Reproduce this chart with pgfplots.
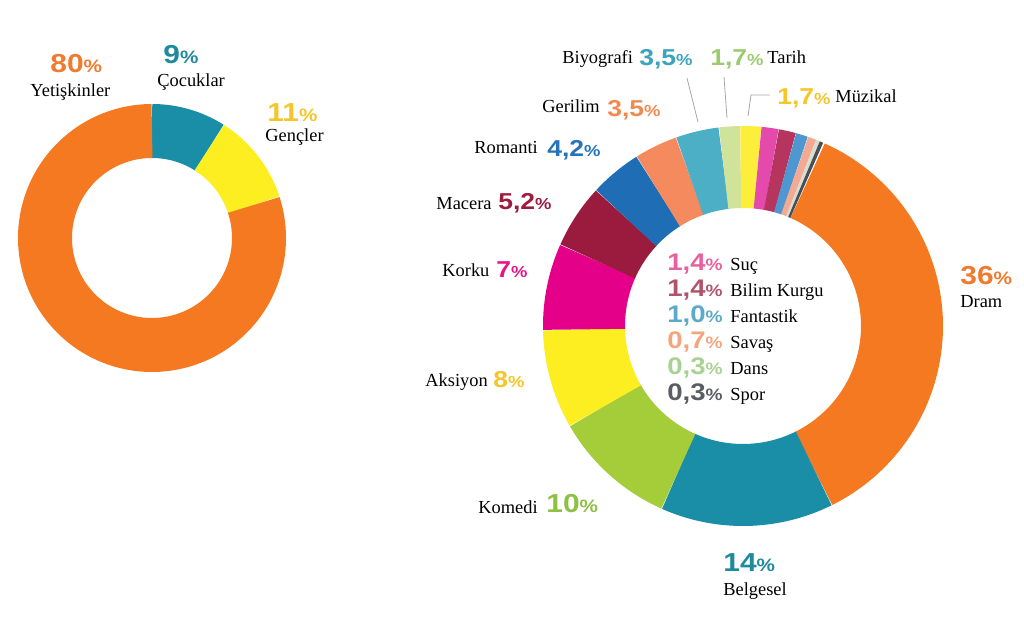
\documentclass[border=0pt]{standalone}
\usepackage{pgfplots}
\pgfplotsset{compat=1.18}
\usepgfplotslibrary{polar}
\usepackage{fontspec}
\setmainfont{Liberation Serif}
\newfontfamily\pctfont{Liberation Sans}
% slice colours
\definecolor{cOrange}{HTML}{F47920}
\definecolor{cTeal}{HTML}{1A8EA6}
\definecolor{cYellow}{HTML}{FCEE21}
\definecolor{cGreen}{HTML}{A5CD39}
\definecolor{cMagenta}{HTML}{E5008A}
\definecolor{cMaroon}{HTML}{9B1B3E}
\definecolor{cBlue}{HTML}{1F6DB5}
\definecolor{cSalmon}{HTML}{F58A5E}
\definecolor{cLTeal}{HTML}{4DAFC6}
\definecolor{cLGreen}{HTML}{CFE39B}
\definecolor{cYellow2}{HTML}{FCEE3B}
\definecolor{cPink}{HTML}{E44AAB}
\definecolor{cRose}{HTML}{B6355F}
\definecolor{cSky}{HTML}{4F97D1}
\definecolor{cPeach}{HTML}{F4A993}
\definecolor{cPale}{HTML}{D9DDD0}
\definecolor{cDark}{HTML}{4A4F57}
% label colours
\definecolor{tOrange}{HTML}{F07A2E}
\definecolor{tTeal}{HTML}{1F8A9E}
\definecolor{tGold}{HTML}{F5C52A}
\definecolor{tGreen}{HTML}{8DC043}
\definecolor{tMagenta}{HTML}{E4168A}
\definecolor{tMaroon}{HTML}{9B1C3D}
\definecolor{tBlue}{HTML}{2574B9}
\definecolor{tSalmon}{HTML}{F08A50}
\definecolor{tLTeal}{HTML}{3AA3BD}
\definecolor{tLGreen}{HTML}{9CCB6E}
\definecolor{tPink}{HTML}{E8609F}
\definecolor{tRose}{HTML}{B0546B}
\definecolor{tSky}{HTML}{5AAAC8}
\definecolor{tPeach}{HTML}{F3A67E}
\definecolor{tPale}{HTML}{AAD194}
\definecolor{tDark}{HTML}{5A5D63}
\newcommand{\pct}[4]{\textcolor{#1}{\scalebox{1.15}[1]{\pctfont\bfseries\fontsize{#2}{#2}\selectfont #4{\fontsize{#3}{#3}\selectfont\%}}}}
\newcommand{\bigp}[2]{\pct{#1}{13pt}{9pt}{#2}}
\newcommand{\smp}[2]{\pct{#1}{11.5pt}{8pt}{#2}}
\newcommand{\legp}[2]{\pct{#1}{12pt}{8.3pt}{#2}}
\begin{document}
\begin{tikzpicture}
\path[use as bounding box] (0,0) rectangle (512pt,321.5pt);
% ---------- left donut: audience ----------
\begin{polaraxis}[at={(76pt,202.5pt)}, anchor=center, hide axis, scale only axis,
  width=134pt, height=134pt, xmin=0, xmax=360, ymin=0, ymax=134, clip=false]
  % Cocuklar 9%, Gencler 11%, Yetiskinler 80% (clockwise from top)
  \addplot[no markers, draw=cTeal,   line width=27pt, domain=57.6:90,  samples=30]  {107};
  \addplot[no markers, draw=cYellow, line width=27pt, domain=18:57.6,  samples=30]  {107};
  \addplot[no markers, draw=cOrange, line width=27pt, domain=-270:18,  samples=150] {107};
\end{polaraxis}
% ---------- right donut: genres ----------
\begin{polaraxis}[at={(371.5pt,158.5pt)}, anchor=center, hide axis, scale only axis,
  width=200pt, height=200pt, xmin=0, xmax=360, ymin=0, ymax=200, clip=false]
  \addplot[no markers, draw=cOrange,  line width=41pt, domain=-63.6:66,       samples=120] {159}; % Dram 36
  \addplot[no markers, draw=cTeal,    line width=41pt, domain=-114:-63.6,     samples=50]  {159}; % Belgesel 14
  \addplot[no markers, draw=cGreen,   line width=41pt, domain=-150:-114,      samples=40]  {159}; % Komedi 10
  \addplot[no markers, draw=cYellow,  line width=41pt, domain=-178.8:-150,    samples=30]  {159}; % Aksiyon 8
  \addplot[no markers, draw=cMagenta, line width=41pt, domain=-204:-178.8,    samples=30]  {159}; % Korku 7
  \addplot[no markers, draw=cMaroon,  line width=41pt, domain=-222.72:-204,   samples=20]  {159}; % Macera 5.2
  \addplot[no markers, draw=cBlue,    line width=41pt, domain=-237.84:-222.72,samples=20]  {159}; % Romanti 4.2
  \addplot[no markers, draw=cSalmon,  line width=41pt, domain=-250.44:-237.84,samples=15]  {159}; % Gerilim 3.5
  \addplot[no markers, draw=cLTeal,   line width=41pt, domain=-263.04:-250.44,samples=15]  {159}; % Biyografi 3.5
  \addplot[no markers, draw=cLGreen,  line width=41pt, domain=-269.16:-263.04,samples=10]  {159}; % Tarih 1.7
  \addplot[no markers, draw=cYellow2, line width=41pt, domain=-275.28:-269.16,samples=10]  {159}; % Muzikal 1.7
  \addplot[no markers, draw=cPink,    line width=41pt, domain=-280.32:-275.28,samples=8]   {159}; % Suc 1.4
  \addplot[no markers, draw=cRose,    line width=41pt, domain=-285.36:-280.32,samples=8]   {159}; % Bilim Kurgu 1.4
  \addplot[no markers, draw=cSky,     line width=41pt, domain=-288.96:-285.36,samples=6]   {159}; % Fantastik 1.0
  \addplot[no markers, draw=cPeach,   line width=41pt, domain=-291.48:-288.96,samples=5]   {159}; % Savas 0.7
  \addplot[no markers, draw=cPale,    line width=41pt, domain=-292.56:-291.48,samples=3]   {159}; % Dans 0.3
  \addplot[no markers, draw=cDark,    line width=41pt, domain=-293.64:-292.56,samples=3]   {159}; % Spor 0.3
\end{polaraxis}
% ---------- labels (pixel coordinates, y downwards) ----------
\begin{scope}[x=0.5pt, y=-0.5pt, yshift=321.5pt, every node/.style={inner sep=0pt, font=\fontsize{9.2pt}{9.2pt}\selectfont}]
  % left donut
  \node[anchor=base west] at (50,73) {\bigp{tOrange}{80}};
  \node[anchor=base west] at (30,97) {Yetişkinler};
  \node[anchor=base west] at (163,64) {\bigp{tTeal}{9}};
  \node[anchor=base west] at (157,87) {Çocuklar};
  \node[anchor=base west] at (267,122) {\bigp{tGold}{11}};
  \node[anchor=base west] at (265,142) {Gençler};
  % right donut, outer labels
  \node[anchor=base west] at (562,64) {Biyografi};
  \node[anchor=base west] at (639,66) {\smp{tLTeal}{3,5}};
  \node[anchor=base west] at (710,66) {\smp{tLGreen}{1,7}};
  \node[anchor=base west] at (767,64) {Tarih};
  \node[anchor=base west] at (777,105) {\smp{tGold}{1,7}};
  \node[anchor=base west] at (835,103) {Müzikal};
  \node[anchor=base west] at (542,113) {Gerilim};
  \node[anchor=base west] at (607,117) {\smp{tSalmon}{3,5}};
  \node[anchor=base west] at (474,154) {Romanti};
  \node[anchor=base west] at (547,157) {\smp{tBlue}{4,2}};
  \node[anchor=base west] at (436,210) {Macera};
  \node[anchor=base west] at (498,210) {\smp{tMaroon}{5,2}};
  \node[anchor=base west] at (442,277) {Korku};
  \node[anchor=base west] at (496,278) {\smp{tMagenta}{7}};
  \node[anchor=base west] at (425,387) {Aksiyon};
  \node[anchor=base west] at (493,388) {\smp{tGold}{8}};
  \node[anchor=base west] at (478,514) {Komedi};
  \node[anchor=base west] at (546,513) {\bigp{tGreen}{10}};
  \node[anchor=base west] at (723,572) {\bigp{tTeal}{14}};
  \node[anchor=base west] at (723,596) {Belgesel};
  \node[anchor=base west] at (960,285) {\bigp{tOrange}{36}};
  \node[anchor=base west] at (960,308) {Dram};
  % leader lines
  \draw[gray!70, line width=0.4pt] (687,78) -- (698,122);
  \draw[gray!70, line width=0.4pt] (724,77) -- (727,118);
  \draw[gray!70, line width=0.4pt] (770,95) -- (751,95) -- (748,116);
  % centre legend
  \foreach \y/\c/\v/\n in {271/tPink/{1,4}/Suç, 297/tRose/{1,4}/Bilim Kurgu, 323/tSky/{1,0}/Fantastik,
      349/tPeach/{0,7}/Savaş, 375/tPale/{0,3}/Dans, 401/tDark/{0,3}/Spor}{
    \node[anchor=base east] at (723,\y) {\legp{\c}{\v}};
    \node[anchor=base west] at (730,\y) {\n};
  }
\end{scope}
\end{tikzpicture}
\end{document}
